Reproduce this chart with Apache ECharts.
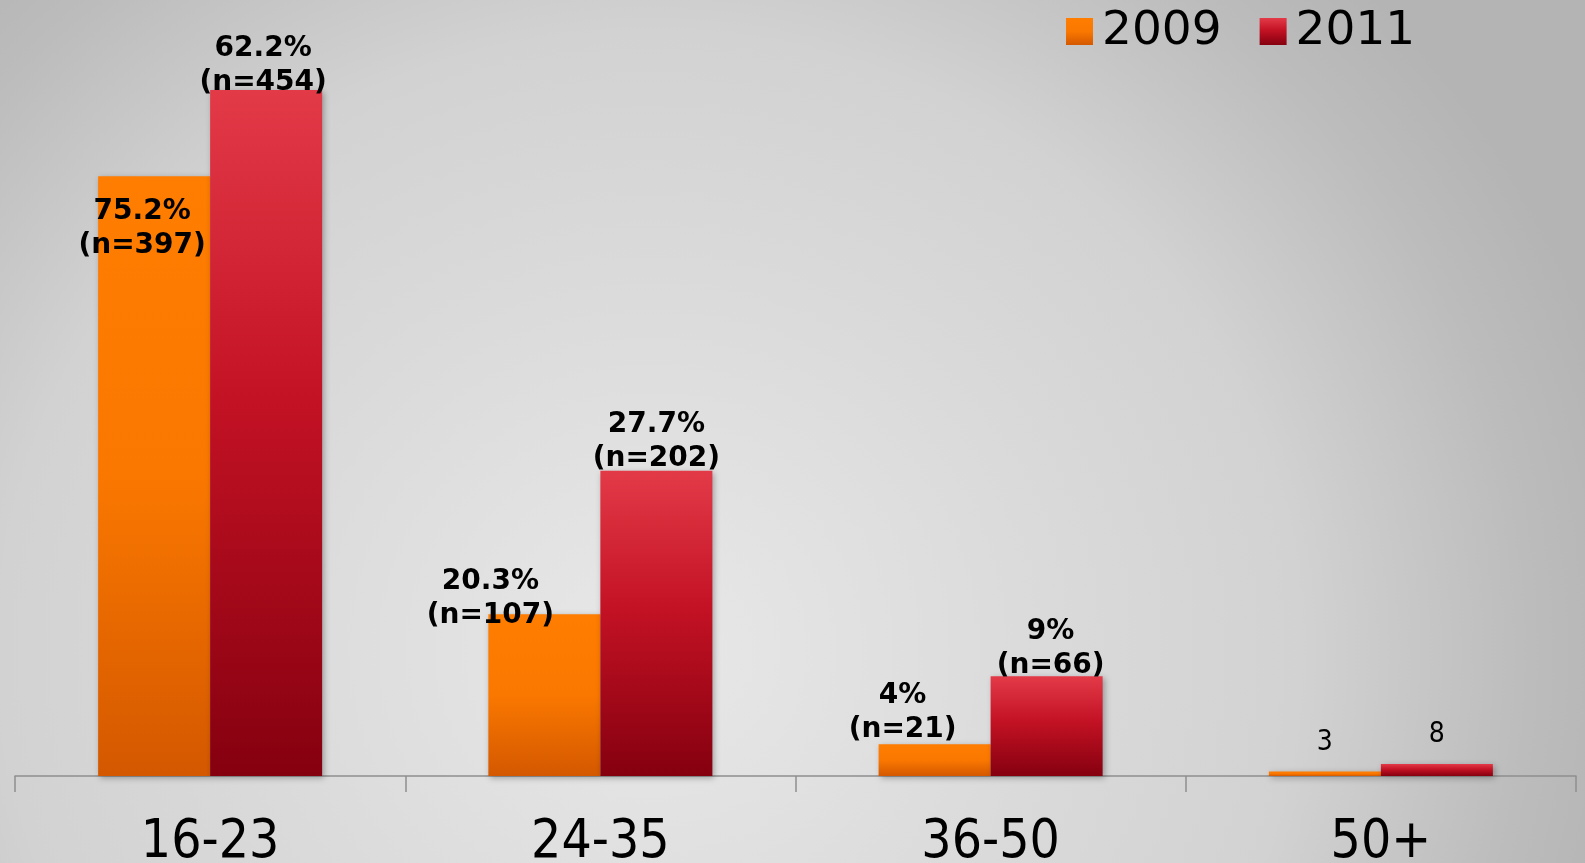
<!DOCTYPE html>
<html>
<head>
<meta charset="utf-8">
<script src="https://cdn.jsdelivr.net/npm/echarts@6/dist/echarts.min.js"></script>
<style>
html, body { margin: 0; padding: 0; }
#main {
	width: 1585px; height: 863px;
	background: radial-gradient(ellipse 1000px 950px at 650px 650px, #e8e8e8 0%, #dadada 40%, #d2d2d2 65%, #bcbcbc 88%, #b4b4b4 100%);
}
</style>
</head>
<body>
<div id="main"></div>
<script>
var categories = ['16-23', '24-35', '36-50', '50+'];
var n2009 = [397, 107, 21, 3];
var n2011 = [454, 202, 66, 8];
var pct2009 = ['75.2%', '20.3%', '4%', null];
var pct2011 = ['62.2%', '27.7%', '9%', null];

// label nudges
var off2009 = [[-12, 87], [-54, 18], [-32, 2], [0, 0]];
var off2011 = [[-3, 10], [0, 5], [4, 6], [0, 0]];

function barData(vals, pcts, offs) {
	return vals.map(function (v, i) {
		var item = { value: v };
		if (pcts[i]) {
			item.label = {
				formatter: pcts[i] + '\n(n=' + v + ')',
				offset: offs[i]
			};
		} else {
			item.label = {
				formatter: '' + v,
				fontWeight: 'normal',
				fontFamily: 'DejaVu Sans Condensed',
				fontSize: 28,
				distance: 12
			};
		}
		return item;
	});
}

var orange = new echarts.graphic.LinearGradient(0, 0, 0, 1, [
	{ offset: 0, color: '#ff7d00' },
	{ offset: 0.5, color: '#fa7800' },
	{ offset: 1, color: '#d45800' }
]);
var red = new echarts.graphic.LinearGradient(0, 0, 0, 1, [
	{ offset: 0, color: '#e33a48' },
	{ offset: 0.45, color: '#c31224' },
	{ offset: 1, color: '#85000f' }
]);

var labelStyle = {
	show: true,
	position: 'top',
	distance: 0,
	color: '#000',
	fontFamily: 'DejaVu Sans',
	fontWeight: 'bold',
	fontSize: 28,
	lineHeight: 34
};

var myChart = echarts.init(document.getElementById('main'));
var option = {
	backgroundColor: 'transparent',
	animation: false,
	legend: {
		left: 1061,
		top: 3,
		itemWidth: 27,
		itemHeight: 27,
		itemGap: 38,
		icon: 'rect',
		textStyle: { fontFamily: 'DejaVu Sans', fontSize: 47, color: '#000', padding: [0, 0, 0, 4] },
		data: ['2009', '2011']
	},
	grid: { left: 15, right: 9, top: 20.5, bottom: 87, containLabel: false, outerBoundsMode: 'none' },
	xAxis: {
		type: 'category',
		data: categories,
		axisLine: { lineStyle: { color: '#8f8f8f', width: 1.5 } },
		axisTick: { show: true, length: 16, lineStyle: { color: '#8f8f8f', width: 1.5 } },
		axisLabel: {
			margin: 41,
			fontFamily: 'DejaVu Sans Condensed',
			fontSize: 53,
			lineHeight: 53,
			color: '#000'
		}
	},
	yAxis: { type: 'value', min: 0, max: 500, show: false },
	series: [{
		name: '2009',
		type: 'bar',
		barWidth: '28.7%',
		barGap: '0%',
		itemStyle: { color: orange, shadowBlur: 6, shadowColor: 'rgba(0,0,0,0.3)', shadowOffsetX: 2, shadowOffsetY: 2 },
		label: labelStyle,
		data: barData(n2009, pct2009, off2009)
	}, {
		name: '2011',
		type: 'bar',
		barWidth: '28.7%',
		barGap: '0%',
		itemStyle: { color: red, shadowBlur: 6, shadowColor: 'rgba(0,0,0,0.3)', shadowOffsetX: 2, shadowOffsetY: 2 },
		label: labelStyle,
		data: barData(n2011, pct2011, off2011)
	}]
};
myChart.setOption(option);
</script>
</body>
</html>
